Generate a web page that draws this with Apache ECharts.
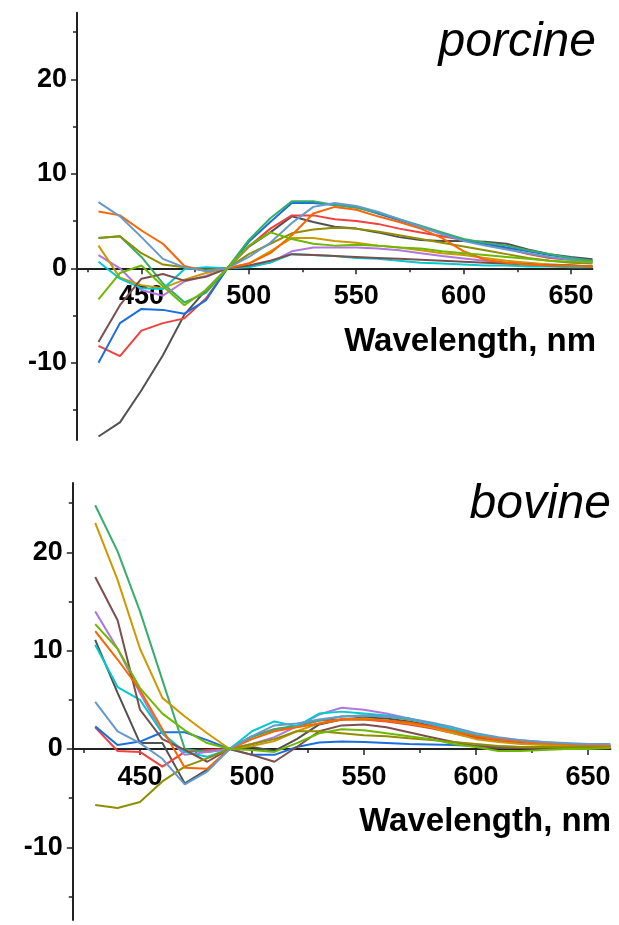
<!DOCTYPE html>
<html>
<head>
<meta charset="utf-8">
<script src="https://cdn.jsdelivr.net/npm/echarts@6/dist/echarts.min.js"></script>
<style>
html,body{margin:0;padding:0;background:#fff;}
#c{width:619px;height:925px;}
</style>
</head>
<body>
<div id="c"></div>
<script>
// Wavelengths (nm)
const wavelengths = [430,440,450,460,470,480,490,500,510,520,530,540,550,560,570,580,590,600,610,620,630,640,650,660];
const xMajorTicks = [450,500,550,600,650];
const xMinorTicks = [425,475,525,575,625];
const yMajorTicks = [-10,0,10,20];
const yMinorTicks = [-15,-5,5,15,25];
const seriesColors = ['#515151','#F14040','#1A6FDF','#37AD6B','#B177DE','#CC9900','#00CBCC','#7D4E4E','#8E8E00','#FB6501','#6699CC','#6FB802'];

// porcine
const porcineGrey   = [-17.8,-16.3,-12.9,-9.2,-4.9,-2.3,0,2.3,3.8,5.5,4.9,4.4,4.2,3.8,3.3,3.0,2.9,2.9,2.8,2.6,2.0,1.5,1.2,0.95];
const porcineRed    = [-8.2,-9.3,-6.6,-5.8,-5.3,-3.2,0,2.3,4.2,5.6,5.6,5.2,5.0,4.7,4.2,3.8,3.4,3.0,2.6,2.1,1.5,1.1,0.9,0.7];
const porcineBlue   = [-10.0,-5.8,-4.3,-4.4,-4.8,-3.4,0,2.8,4.9,6.9,6.9,6.7,6.5,5.8,5.1,4.4,3.7,3.0,2.6,2.2,1.8,1.4,1.1,0.8];
const porcineGreen  = [3.2,3.4,1.2,-1.6,-3.6,-2.6,0,3.0,5.3,7.1,7.1,6.7,6.4,5.9,5.2,4.5,3.8,3.1,2.7,2.4,1.9,1.5,1.1,0.8];
const porcinePurple = [1.4,0.0,-2.3,-2.9,-1.4,-0.8,0,0.2,0.6,1.8,2.2,2.2,2.2,2.1,1.9,1.6,1.3,1.05,0.8,0.6,0.5,0.4,0.3,0.2];
const porcineGold   = [2.4,-1.0,-1.8,-2.1,-1.2,-0.5,0,0.5,1.8,3.2,3.2,2.9,2.7,2.4,2.2,1.9,1.6,1.4,1.1,0.8,0.6,0.4,0.3,0.2];
const porcineCyan   = [0.7,-1.1,-2.1,-2.2,-0.1,0.1,0,0.1,0.6,1.5,1.4,1.3,1.1,1.0,0.8,0.6,0.5,0.4,0.3,0.3,0.2,0.2,0.1,0.1];
const porcineBrown  = [-7.8,-3.9,-1.1,-0.6,-1.3,-0.9,0,0.3,0.8,1.5,1.4,1.3,1.2,1.1,1.0,0.9,0.8,0.7,0.6,0.5,0.4,0.3,0.3,0.2];
const porcineOlive  = [3.2,3.4,1.6,0.4,0.1,-0.2,0,1.5,2.6,3.7,4.1,4.3,4.2,3.9,3.5,3.1,2.7,2.3,1.9,1.5,1.1,0.8,0.6,0.5];
const porcineOrange = [6.0,5.6,4.0,2.6,0.25,-0.3,0,0.5,1.6,3.5,5.8,6.5,6.2,5.5,4.9,4.2,3.2,1.8,0.9,0.6,0.4,0.3,0.25,0.2];
const porcineLtBlue = [7.0,5.5,3.3,1.0,0.1,-0.3,0,1.2,2.7,4.8,6.5,6.9,6.6,6.0,5.2,4.4,3.6,2.9,2.4,2.0,1.6,1.2,0.9,0.6];
const porcineLime   = [-3.3,-0.5,0.3,-1.9,-3.9,-2.3,0,2.4,3.8,3.1,2.6,2.4,2.5,2.4,2.2,2.1,1.8,1.6,1.4,1.2,1.0,0.8,0.7,0.7];

// bovine
const bovineGrey   = [11.1,5.7,0.6,0.6,-3.5,-2.1,0,0.2,-0.2,1.0,2.5,3.0,3.2,3.1,2.8,2.4,1.8,1.2,0.8,0.6,0.5,0.4,0.3,0.3];
const bovineRed    = [2.2,-0.2,-0.3,-1.8,-0.3,-0.1,0,1.3,2.0,2.3,2.9,3.0,3.0,2.8,2.5,2.1,1.6,1.1,0.8,0.6,0.5,0.4,0.3,0.3];
const bovineBlue   = [2.3,0.4,0.75,1.7,1.7,0.9,0,-0.6,-0.6,0.2,0.65,0.75,0.7,0.6,0.5,0.45,0.4,0.3,0.25,0.2,0.2,0.2,0.2,0.2];
const bovineGreen  = [24.8,20.1,14.0,7.0,0.0,-0.3,0,1.2,2.0,2.4,2.9,3.3,3.4,3.3,3.0,2.6,2.0,1.4,1.0,0.8,0.6,0.5,0.4,0.3];
const bovinePurple = [14.0,10.2,5.7,1.6,-0.6,-0.3,0,0.5,1.2,2.3,3.5,4.2,4.0,3.6,3.1,2.5,1.9,1.4,1.0,0.8,0.6,0.5,0.4,0.3];
const bovineGold   = [23.0,17.2,10.2,5.2,3.3,1.6,0,0.3,0.8,1.8,2.6,3.0,3.1,2.9,2.6,2.2,1.6,1.0,0.7,0.5,0.4,0.3,0.2,0.2];
const bovineCyan   = [10.6,6.3,5.0,1.6,-0.3,-0.8,0,1.8,2.8,2.3,3.6,3.8,3.6,3.4,3.1,2.6,2.0,1.4,1.1,0.9,0.7,0.5,0.4,0.4];
const bovineBrown  = [17.5,13.1,4.0,1.0,-0.1,-1.3,0,-0.6,-1.3,0.2,1.8,2.4,2.5,2.2,1.7,1.2,0.7,0.3,0.1,0.1,0.1,0.1,0.1,0.1];
const bovineOlive  = [-5.7,-6.0,-5.4,-3.3,-1.8,-0.95,0,0.5,1.0,1.8,1.8,1.6,1.4,1.3,1.1,0.9,0.7,0.5,0.3,0.2,0.2,0.2,0.2,0.2];
const bovineOrange = [12.0,9.1,6.0,2.0,-1.9,-2.0,0,1.0,1.8,2.2,2.6,3.0,3.0,2.9,2.7,2.3,1.8,1.3,1.0,0.8,0.6,0.5,0.4,0.3];
const bovineLtBlue = [4.8,1.8,0.6,-1.0,-3.6,-2.3,0,1.3,2.4,2.6,3.0,3.3,3.4,3.3,3.1,2.7,2.2,1.6,1.2,0.9,0.7,0.6,0.5,0.5];
const bovineLime   = [12.7,10.2,6.2,3.6,1.9,0.6,0,-0.1,-0.3,0.6,1.6,2.0,1.9,1.6,1.3,1.0,0.5,0.2,-0.2,-0.2,-0.1,0.0,0.0,0.1];

const porcineSets = [porcineGrey,porcineRed,porcineBlue,porcineGreen,porcinePurple,porcineGold,porcineCyan,porcineBrown,porcineOlive,porcineOrange,porcineLtBlue,porcineLime];
const bovineSets  = [bovineGrey,bovineRed,bovineBlue,bovineGreen,bovinePurple,bovineGold,bovineCyan,bovineBrown,bovineOlive,bovineOrange,bovineLtBlue,bovineLime];

const FONT = '"Liberation Sans", Arial, sans-serif';
const AXC = '#222';

// panel geometry
const grids = [
  {left:77, top:12.7, width:515.5, height:427.3, yMin:-18.17, yMax:27.05},
  {left:72.8, top:483, width:537.6, height:437, yMin:-17.4, yMax:27.06}
];
// offset that moves the bottom x axis up to y = 0
function zeroOffset(g) {
  const zeroFromBottom = g.height * (0 - g.yMin) / (g.yMax - g.yMin);
  return -zeroFromBottom;
}

function xAxes(gridIndex) {
  const off = zeroOffset(grids[gridIndex]);
  return [
    {
      type:'value', gridIndex, min:420, max:660, position:'bottom', offset:off,
      axisLine:{show:true, onZero:false, lineStyle:{color:AXC, width:2}},
      axisTick:{show:true, customValues:xMajorTicks, length:6, lineStyle:{color:AXC, width:1.5}},
      axisLabel:{show:true, customValues:xMajorTicks, margin:15, color:'#000', fontFamily:FONT, fontWeight:'bold', fontSize:27},
      splitLine:{show:false}
    },
    {
      type:'value', gridIndex, min:420, max:660, position:'bottom', offset:off,
      axisLine:{show:false, onZero:false},
      axisTick:{show:true, customValues:xMinorTicks, length:4, lineStyle:{color:AXC, width:1.5}},
      axisLabel:{show:false},
      splitLine:{show:false}
    }
  ];
}
function yAxes(gridIndex) {
  const g = grids[gridIndex];
  return [
    {
      type:'value', gridIndex, min:g.yMin, max:g.yMax, position:'left',
      axisLine:{show:true, onZero:false, lineStyle:{color:AXC, width:2}},
      axisTick:{show:true, customValues:yMajorTicks, length:6, lineStyle:{color:AXC, width:1.5}},
      axisLabel:{show:true, customValues:yMajorTicks, margin:10, color:'#000', fontFamily:FONT, fontWeight:'bold', fontSize:27},
      splitLine:{show:false}
    },
    {
      type:'value', gridIndex, min:g.yMin, max:g.yMax, position:'left', offset:0,
      axisLine:{show:false, onZero:false},
      axisTick:{show:true, customValues:yMinorTicks, length:4, lineStyle:{color:AXC, width:1.5}},
      axisLabel:{show:false},
      splitLine:{show:false}
    }
  ];
}

const series = [];
function addSeries(sets, xIdx, yIdx) {
  sets.forEach((vals, k) => {
    series.push({
      type:'line', xAxisIndex:xIdx, yAxisIndex:yIdx,
      data: wavelengths.map((w,i)=>[w, vals[i]]),
      symbol:'none', showSymbol:false, silent:true,
      lineStyle:{color:seriesColors[k], width:2},
      itemStyle:{color:seriesColors[k]}
    });
  });
}
addSeries(porcineSets, 0, 0);
addSeries(bovineSets, 2, 2);

const option = {
  animation:false,
  backgroundColor:'#fff',
  grid: grids.map(g => ({left:g.left, top:g.top, width:g.width, height:g.height})),
  xAxis:[...xAxes(0), ...xAxes(1)],
  yAxis:[...yAxes(0), ...yAxes(1)],
  title:[
    {text:'porcine', right:18, top:14, textStyle:{fontFamily:FONT, fontStyle:'italic', fontWeight:'normal', fontSize:48, color:'#000'}},
    {text:'Wavelength, nm', right:18, top:320, textStyle:{fontFamily:FONT, fontWeight:'bold', fontSize:33, color:'#000'}},
    {text:'bovine', right:3, top:476, textStyle:{fontFamily:FONT, fontStyle:'italic', fontWeight:'normal', fontSize:48, color:'#000'}},
    {text:'Wavelength, nm', right:3, top:800, textStyle:{fontFamily:FONT, fontWeight:'bold', fontSize:33, color:'#000'}}
  ],
  series
};
const chart = echarts.init(document.getElementById('c'), null, {renderer:'canvas'});
chart.setOption(option);
</script>
</body>
</html>
